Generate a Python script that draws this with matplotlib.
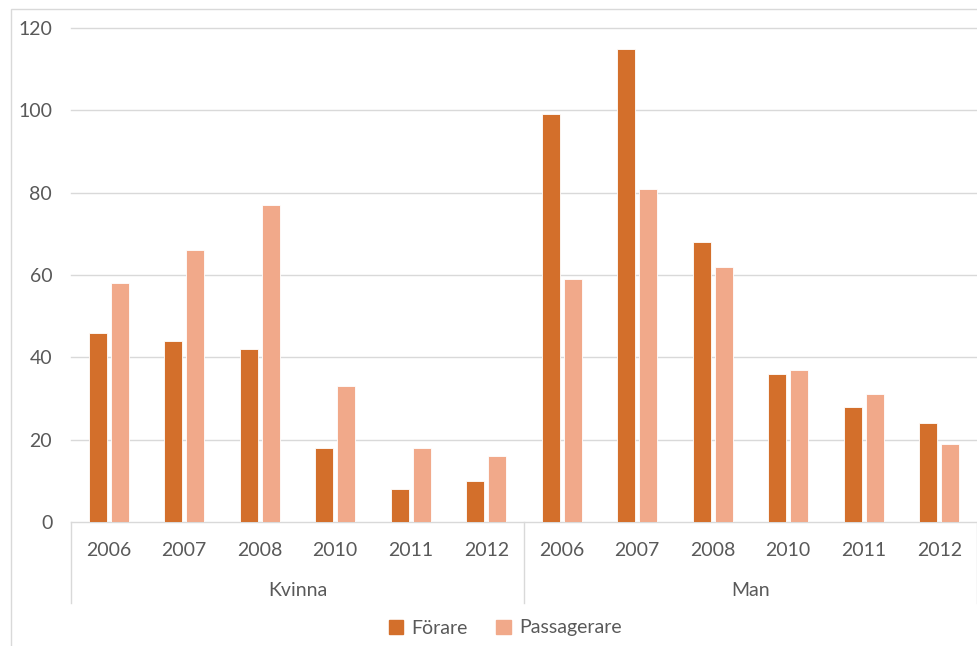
import matplotlib
matplotlib.use("Agg")
import matplotlib.pyplot as plt
import matplotlib.transforms as mtransforms
from matplotlib.patches import Rectangle, Patch
import numpy as np

plt.rcParams["font.family"] = ["Lato", "DejaVu Sans"]

# data
groups = ["Kvinna", "Man"]
years = ["2006", "2007", "2008", "2010", "2011", "2012"]
forare = [46, 44, 42, 18, 8, 10, 99, 115, 68, 36, 28, 24]
passagerare = [58, 66, 77, 33, 18, 16, 59, 81, 62, 37, 31, 19]
y_ticks = [0, 20, 40, 60, 80, 100, 120]

c_forare = "#D36F2B"
c_pass = "#F1A98A"
c_text = "#595959"
c_grid = "#D9D9D9"
fs = 14

W, H = 978, 646
fig = plt.figure(figsize=(W / 100, H / 100), dpi=100)
ax = fig.add_axes([71 / W, 124 / H, 906 / W, 494 / H])

x = np.arange(len(forare))
bw = 0.235
ax.bar(x - 0.145, forare, bw, color=c_forare, edgecolor="white", linewidth=0.6, zorder=3, label="Förare")
ax.bar(x + 0.145, passagerare, bw, color=c_pass, edgecolor="white", linewidth=0.6, zorder=3, label="Passagerare")

ax.set_xlim(-0.5, len(forare) - 0.5)
ax.set_ylim(0, 120)
ax.set_yticks(y_ticks)
ax.set_yticklabels([str(v) for v in y_ticks])
ax.tick_params(axis="y", length=0, pad=13.5, labelsize=fs, labelcolor=c_text)
ax.set_xticks([])
for v in y_ticks:
    ax.axhline(v, color=c_grid, linewidth=1, zorder=1, clip_on=False)
for s in ax.spines.values():
    s.set_visible(False)

# two-level category axis
trans = mtransforms.blended_transform_factory(ax.transData, ax.transAxes)
px = 1 / 494  # one pixel in axes fraction (vertical)
for i, lab in enumerate(years * len(groups)):
    ax.text(i, -28 * px, lab, transform=trans, ha="center", va="center",
            fontsize=fs, color=c_text)
for g, name in enumerate(groups):
    ax.text(g * len(years) + (len(years) - 1) / 2, -69 * px, name, transform=trans,
            ha="center", va="center", fontsize=fs, color=c_text)
for g in range(len(groups) + 1):
    ax.plot([g * len(years) - 0.5] * 2, [0, -81 * px], transform=trans,
            color=c_grid, linewidth=1, clip_on=False)

# chart border (cut off at right and bottom)
fig.patches.append(Rectangle((10.5 / W, -0.2), 2, 1.2 - 8.5 / H, transform=fig.transFigure,
                             fill=False, edgecolor=c_grid, linewidth=1))

handles = [Patch(color=c_forare, label="Förare"), Patch(color=c_pass, label="Passagerare")]
fig.legend(handles=handles, loc="center", bbox_to_anchor=(505 / W, 1 - 628 / H), ncol=2,
           frameon=False, handlelength=0.75, handleheight=0.75, handletextpad=0.4,
           columnspacing=1.5, fontsize=fs, labelcolor=c_text)

fig.savefig("out.png", dpi=100)
